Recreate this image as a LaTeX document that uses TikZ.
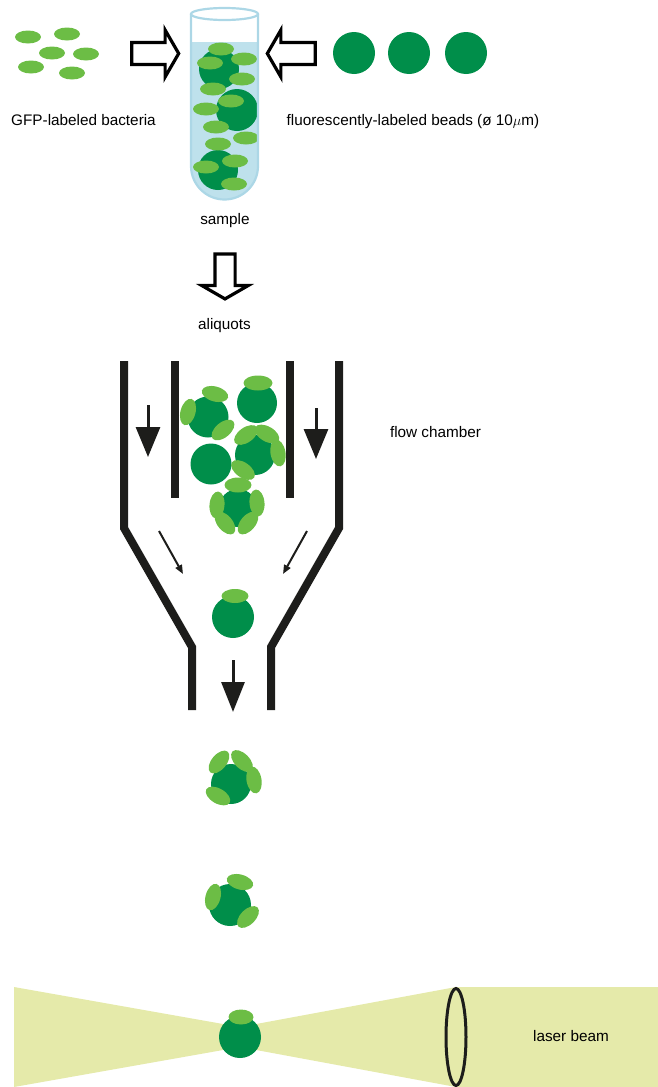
\documentclass[tikz,border=0pt]{standalone}
\usepackage{fontspec}
\setmainfont{Liberation Sans}
\usetikzlibrary{positioning,shapes.geometric,shapes.arrows,arrows.meta}
\definecolor{beadgreen}{RGB}{0,142,74}
\definecolor{gfp}{RGB}{108,189,69}
\definecolor{liquid}{RGB}{190,225,236}
\definecolor{glass}{RGB}{172,215,230}
\definecolor{beam}{RGB}{229,234,170}
\definecolor{wallblack}{RGB}{29,29,27}
\tikzset{
  bac/.style={ellipse, fill=gfp, minimum width=26pt, minimum height=13pt, inner sep=0pt},
  cbac/.style={ellipse, fill=gfp, minimum width=27pt, minimum height=15pt, inner sep=0pt},
  bead/.style={circle, fill=beadgreen, minimum size=42pt, inner sep=0pt},
  hollow/.style={single arrow, draw=black, fill=white, line width=3.2pt, inner xsep=0pt, inner ysep=9.4pt, minimum height=47pt, single arrow head extend=12.5pt, single arrow tip angle=120},
  wall/.style={line width=8pt, draw=wallblack},
  flow/.style={line width=3pt, draw=wallblack, -{Triangle[length=30pt,width=24pt]}},
  drift/.style={line width=2pt, draw=wallblack, -{Triangle[length=9pt,width=7pt]}},
  lbl/.style={font=\fontsize{15.3}{18}\selectfont, anchor=base, inner sep=0pt}
}
\begin{document}
\begin{tikzpicture}[x=1pt,y=-1pt]
\useasboundingbox (0,0) rectangle (658,1087);

\node[bac] (b1) at (28,37) {};
\node[bac] (b2) at (67,34) {};
\node[bac] (b3) at (52,53) {};
\node[bac] (b4) at (86,54) {};
\node[bac] (b5) at (31,67) {};
\node[bac] (b6) at (72,73) {};
\node[lbl] (bactlbl) at (83.5,125) {GFP-labeled bacteria};

\node[bead] (k1) at (354,53) {};
\node[bead] (k2) at (409,53) {};
\node[bead] (k3) at (466,53) {};
\node[lbl] (beadlbl) at (413,125) {fluorescently-labeled beads (ø 10$\mu$m)};

\node[hollow] (arrbact) at (152,53.5) {};
\node[hollow, shape border rotate=180, minimum height=48pt] (arrbead) at (294.5,53.5) {};

\fill[liquid] (191,42) -- (258,42) -- (258,166)
  arc[start angle=0,end angle=180,radius=33.5] -- cycle;
\begin{scope}
\clip (191,42) -- (258,42) -- (258,166)
  arc[start angle=0,end angle=180,radius=33.5] -- cycle;
\node[bead, minimum size=40pt] (t1) at (219,69) {};
\node[bead] (t2) at (237,110) {};
\node[bead, minimum size=40pt] (t3) at (218,170) {};
\node[bac] (tb1) at (221,49) {};
\node[bac] (tb2) at (210,63) {};
\node[bac] (tb3) at (244,59) {};
\node[bac] (tb4) at (242,79) {};
\node[bac] (tb5) at (213,89) {};
\node[bac] (tb6) at (231,101) {};
\node[bac] (tb7) at (206,109) {};
\node[bac] (tb8) at (216,127) {};
\node[bac] (tb9) at (246,138) {};
\node[bac] (tb10) at (218,144) {};
\node[bac] (tb11) at (235,161) {};
\node[bac] (tb12) at (206,167) {};
\node[bac] (tb13) at (234,184) {};
\end{scope}
\draw[glass, line width=2.2pt] (191,14) -- (191,166)
  arc[start angle=180,end angle=0,radius=33.5] -- (258,14);
\draw[glass, line width=2.2pt] (224.5,14) ellipse [x radius=33.5, y radius=6];
\node[lbl] (samplelbl) at (225,224) {sample};

\node[hollow, shape border rotate=270, inner xsep=8.5pt, inner ysep=0pt, minimum height=45pt, single arrow head extend=13pt] (arrdown) at (225,273.5) {};
\node[lbl] (aliqlbl) at (224.5,329) {aliquots};

\draw[wall] (124,361) -- (124,528) -- (192,647) -- (192,710);
\draw[wall] (339,361) -- (339,528) -- (271,647) -- (271,710);
\draw[wall] (175,361) -- (175,498);
\draw[wall] (290,361) -- (290,498);
\node[lbl] (chamberlbl) at (435.5,437) {flow chamber};

\coordinate (fl1) at (148,405);
\coordinate (fl2) at (148,457);
\coordinate (fr1) at (316,408);
\coordinate (fr2) at (316,459);
\coordinate (dl1) at (159,531);
\coordinate (dl2) at (183,574);
\coordinate (dr1) at (307,531);
\coordinate (dr2) at (283,574);
\coordinate (fo1) at (233,660);
\coordinate (fo2) at (233,712);
\draw[flow] (fl1) -- (fl2);
\draw[flow] (fr1) -- (fr2);
\draw[drift] (dl1) -- (dl2);
\draw[drift] (dr1) -- (dr2);
\draw[flow, -{Triangle[length=30pt,width=23pt]}] (fo1) -- (fo2);

\node[bead, minimum size=41pt] (ca) at (208,417) {};
\node[bead, minimum size=40pt] (cb) at (257,403) {};
\node[bead, minimum size=41pt] (cc) at (211,464) {};
\node[bead, minimum size=40pt] (cd) at (255,455) {};
\node[bead, minimum size=38pt] (ce) at (238,508) {};
\node[cbac, rotate=-15] (ca1) at (215,394) {};
\node[cbac, rotate=75] (ca2) at (188,412) {};
\node[cbac, rotate=40] (ca3) at (223,430) {};
\node[cbac, minimum width=29pt] (cb1) at (258,383) {};
\node[cbac, rotate=35] (cd1) at (246,435) {};
\node[cbac, rotate=-30] (cd2) at (267,434) {};
\node[cbac, rotate=100] (cd3) at (278,453) {};
\node[cbac, rotate=-35] (cd4) at (243,470) {};
\node[cbac] (ce1) at (238,485) {};
\node[cbac, rotate=85] (ce2) at (217,505) {};
\node[cbac, rotate=95] (ce3) at (257,503) {};
\node[cbac, rotate=-50] (ce4) at (225,523) {};
\node[cbac, rotate=50] (ce5) at (248,523) {};

\node[bead] (cf) at (233,617) {};
\node[cbac, minimum height=14pt] (cf1) at (235,596) {};

\node[bead, minimum size=40pt] (cg) at (231,784) {};
\node[cbac, rotate=50] (cg1) at (219,762) {};
\node[cbac, rotate=-45] (cg2) at (242,761) {};
\node[cbac, rotate=100] (cg3) at (254,780) {};
\node[cbac, rotate=-30] (cg4) at (218,796) {};

\node[bead] (ch) at (230,905) {};
\node[cbac, rotate=-15] (ch1) at (240,882) {};
\node[cbac, rotate=75] (ch2) at (213,897) {};
\node[cbac, rotate=45] (ch3) at (248,917) {};

\fill[beam] (14,987) -- (240,1027) -- (456,987) -- (658,987) -- (658,1087)
  -- (456,1087) -- (240,1047) -- (14,1087) -- cycle;
\node[bead] (cl) at (240,1037) {};
\node[cbac, minimum width=25pt] (cl1) at (241,1017) {};
\draw[line width=3pt, wallblack] (456,1037) ellipse [x radius=10, y radius=48.5];
\node[lbl] (laserlbl) at (571,1041) {laser beam};
\end{tikzpicture}
\end{document}
